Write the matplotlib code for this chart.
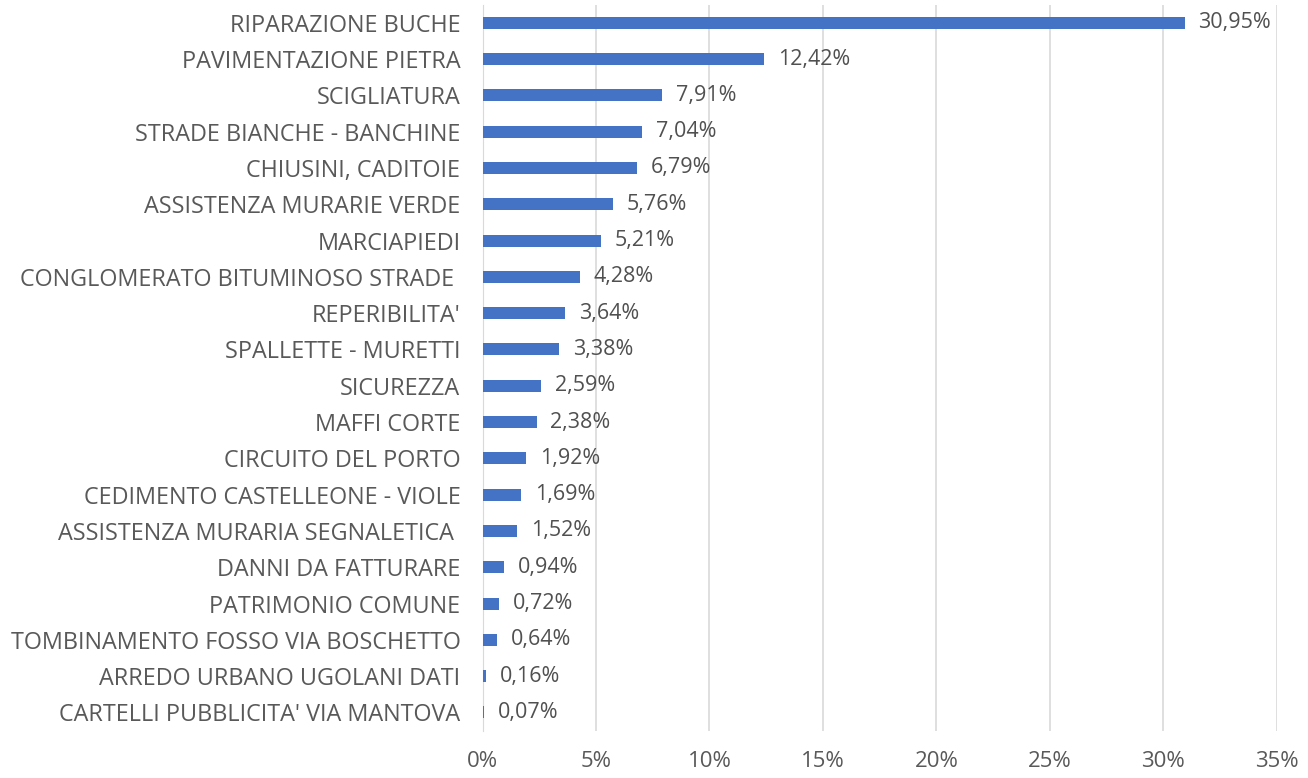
import matplotlib
matplotlib.use("Agg")
import matplotlib.pyplot as plt
from matplotlib.ticker import FuncFormatter

categories = [
    "RIPARAZIONE BUCHE", "PAVIMENTAZIONE PIETRA", "SCIGLIATURA",
    "STRADE BIANCHE - BANCHINE", "CHIUSINI, CADITOIE", "ASSISTENZA MURARIE VERDE",
    "MARCIAPIEDI", "CONGLOMERATO BITUMINOSO STRADE ", "REPERIBILITA'",
    "SPALLETTE - MURETTI", "SICUREZZA", "MAFFI CORTE", "CIRCUITO DEL PORTO",
    "CEDIMENTO CASTELLEONE - VIOLE", "ASSISTENZA MURARIA SEGNALETICA ",
    "DANNI DA FATTURARE", "PATRIMONIO COMUNE", "TOMBINAMENTO FOSSO VIA BOSCHETTO",
    "ARREDO URBANO UGOLANI DATI", "CARTELLI PUBBLICITA' VIA MANTOVA",
]
values = [30.95, 12.42, 7.91, 7.04, 6.79, 5.76, 5.21, 4.28, 3.64, 3.38,
          2.59, 2.38, 1.92, 1.69, 1.52, 0.94, 0.72, 0.64, 0.16, 0.07]

plt.rcParams['font.family'] = ['Open Sans', 'DejaVu Sans']

fig = plt.figure(figsize=(13.08, 7.78), dpi=100)
ax = fig.add_axes([0.369, 0.061, 0.607, 0.933])

pos = list(range(len(categories)))
ax.barh(pos, values, height=0.33, color='#4472C4', zorder=3)
ax.set_ylim(len(categories) - 0.5, -0.5)
ax.set_xlim(0, 35)
ax.set_xticks(range(0, 36, 5))
ax.xaxis.set_major_formatter(FuncFormatter(lambda v, p: f"{int(v)}%"))
ax.set_yticks(pos)
ax.set_yticklabels(categories)

# value labels, comma as decimal separator
for i, v in enumerate(values):
    ax.text(v + 0.6, i, f"{v:.2f}%".replace('.', ','), va='center', ha='left',
            fontsize=15.5, color='#505050')

ax.grid(axis='x', color='#D9D9D9', linewidth=1.2, zorder=0)
for s in ['top', 'right', 'bottom']:
    ax.spines[s].set_visible(False)
ax.spines['left'].set_color('#D9D9D9')
ax.tick_params(axis='both', length=0, colors='#595959')
ax.tick_params(axis='x', pad=15, labelsize=16)
ax.tick_params(axis='y', pad=16, labelsize=16.8)

fig.savefig("out.png", dpi=100)
